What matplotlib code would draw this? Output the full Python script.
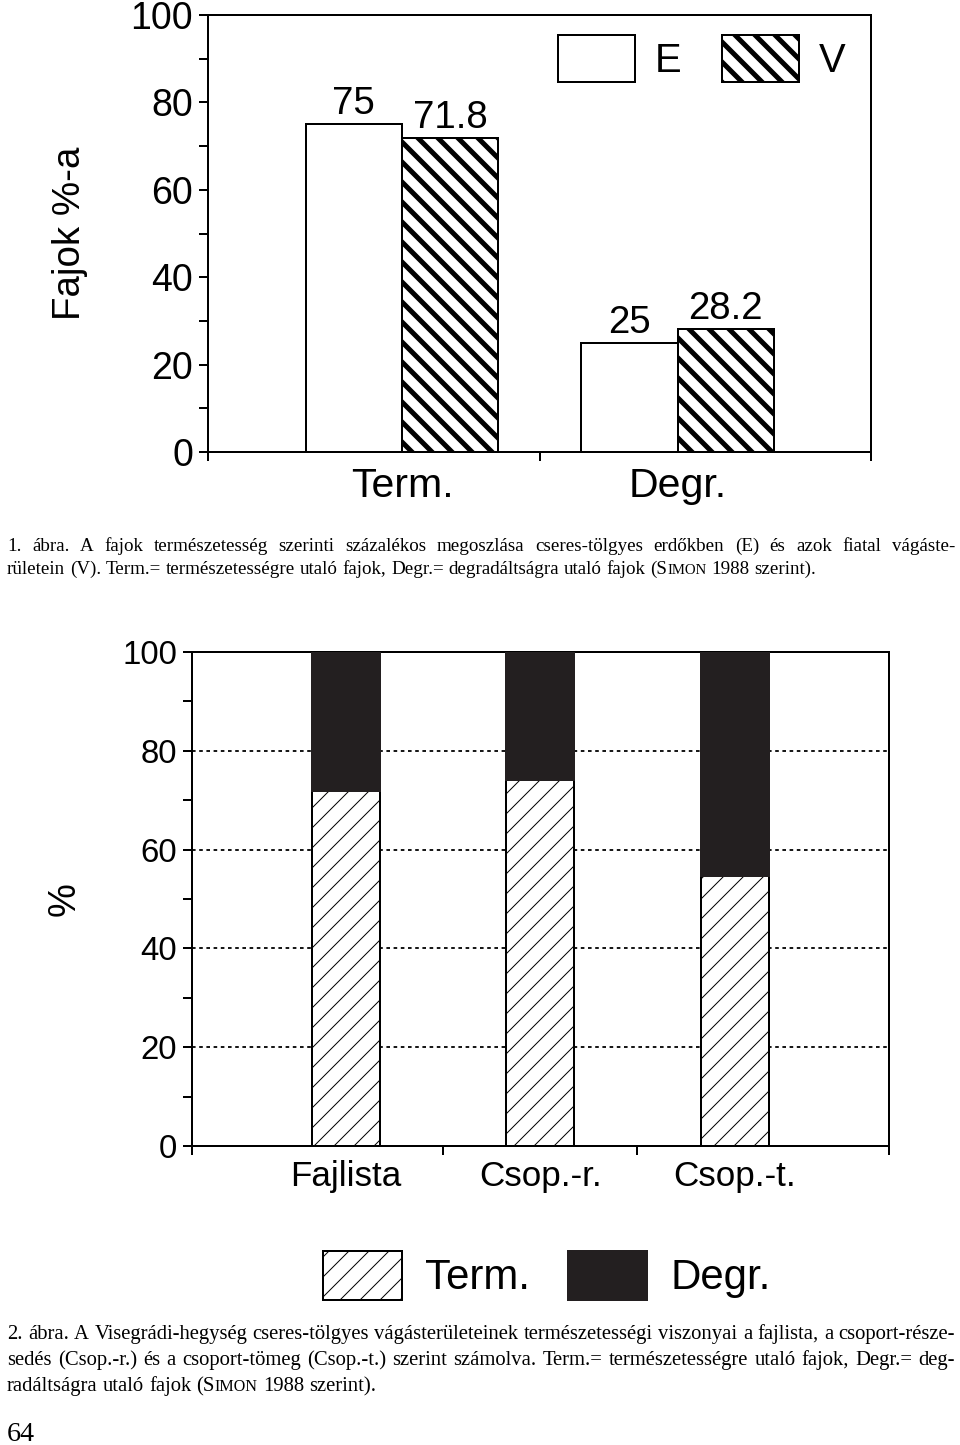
import matplotlib
matplotlib.use("Agg")
import matplotlib.pyplot as plt
import numpy as np

DPI = 120
W, H = 960, 1445

# 1. abra: E = erdo, V = vagasterulet
groups1 = ["Term.", "Degr."]
erdo = [75, 25]
vagas = [71.8, 28.2]

# 2. abra: stacked
groups2 = ["Fajlista", "Csop.-r.", "Csop.-t."]
term = [71.8, 74.0, 54.7]
degr = [28.2, 26.0, 45.3]

cap1 = ["1. ábra. A fajok természetesség szerinti százalékos megoszlása cseres-tölgyes erdőkben (E) és azok fiatal vágáste-",
        "rületein (V). Term.= természetességre utaló fajok, Degr.= degradáltságra utaló fajok (SIMON 1988 szerint)."]
cap2 = ["2. ábra. A Visegrádi-hegység cseres-tölgyes vágásterületeinek természetességi viszonyai a fajlista, a csoport-része-",
        "sedés (Csop.-r.) és a csoport-tömeg (Csop.-t.) szerint számolva. Term.= természetességre utaló fajok, Degr.= deg-",
        "radáltságra utaló fajok (SIMON 1988 szerint)."]

plt.rcParams['font.family'] = ['Liberation Sans', 'DejaVu Sans']
plt.rcParams['hatch.color'] = 'black'


def pt(px):
    return px * 72 / DPI


def hh(px, fs):
    # legend handleheight giving a box of px pixels for font size fs (px)
    return (px / fs - 0.245) / 0.65


fig = plt.figure(figsize=(W / DPI, H / DPI), dpi=DPI)
fig.patch.set_facecolor('white')


def axes_px(left, top, right, bottom):
    return fig.add_axes([left / W, 1 - bottom / H, (right - left) / W, (bottom - top) / H])


def style_axes(ax, xlim, xticks, ticksize):
    ax.set_xlim(*xlim)
    ax.set_ylim(0, 100)
    for s in ax.spines.values():
        s.set_linewidth(pt(2))
    ax.set_xticks(xticks)
    ax.set_xticklabels([])
    ax.set_yticks(np.arange(0, 101, 20))
    ax.set_yticks(np.arange(10, 100, 20), minor=True)
    ax.tick_params(axis='both', which='both', direction='out', length=pt(9), width=pt(2))
    ax.tick_params(axis='y', which='major', labelsize=ticksize, pad=pt(6))


def set_hatch_lw(bars, lw):
    for b in bars:
        if hasattr(b, 'set_hatch_linewidth'):
            b.set_hatch_linewidth(lw)


# ---------------- figure 1 ----------------
ax1 = axes_px(208, 15, 871, 452)
x1 = np.arange(len(groups1))
w1 = 0.35
style_axes(ax1, (-0.704, 1.702), [-0.704, 0.5, 1.702], pt(37.5))

b_e = ax1.bar(x1 - w1 / 2, erdo, w1, color='white', edgecolor='black', linewidth=pt(2), label='E')
plt.rcParams['hatch.linewidth'] = pt(5)
b_v = ax1.bar(x1 + w1 / 2, vagas, w1, color='white', edgecolor='black', linewidth=pt(2),
              hatch='\\\\', label='V')
set_hatch_lw(b_v, pt(5))

for bars, vals in ((b_e, erdo), (b_v, vagas)):
    for b, v in zip(bars, vals):
        ax1.annotate(f"{v:g}", (b.get_x() + b.get_width() / 2, v), xytext=(0, pt(10)),
                     textcoords='offset points', ha='center', va='baseline', fontsize=pt(38.5))

ax1.set_xticks(x1, minor=True)
ax1.set_xticklabels(groups1, minor=True, fontsize=pt(41))
ax1.tick_params(axis='x', which='minor', length=0, pad=pt(15))
ax1.set_ylabel("Fajok %-a", fontsize=pt(38.5))
ax1.yaxis.set_label_coords((88 - 208) / 663, 0.5)

ax1.legend(handles=[b_e, b_v], ncol=2, frameon=False, fontsize=pt(40),
           handlelength=77 / 40, handleheight=hh(47, 40), handletextpad=0.5,
           columnspacing=1.0, borderpad=0, borderaxespad=0,
           loc='upper left', bbox_to_anchor=(558 / W, 1 - 35 / H),
           bbox_transform=fig.transFigure)

# ---------------- figure 2 ----------------
ax2 = axes_px(192, 652, 889, 1146)
x2 = np.arange(len(groups2))
w2 = 0.35
style_axes(ax2, (-0.793, 2.795), [-0.793, 0.5, 1.5, 2.795], pt(33))
ax2.set_axisbelow(True)
ax2.yaxis.grid(True, which='major', color='black', linewidth=pt(1.8), linestyle=(0, (2, 2)))

plt.rcParams['hatch.linewidth'] = pt(1.0)
b_t = ax2.bar(x2, term, w2, color='white', edgecolor='black', linewidth=pt(2),
              hatch='//', label='Term.', zorder=3)
set_hatch_lw(b_t, pt(1.0))
b_d = ax2.bar(x2, degr, w2, bottom=term, color='#231f20', edgecolor='#231f20',
              linewidth=pt(2), label='Degr.', zorder=3)

ax2.set_xticks(x2, minor=True)
ax2.set_xticklabels(groups2, minor=True, fontsize=pt(35))
ax2.tick_params(axis='x', which='minor', length=0, pad=pt(14))
ax2.set_ylabel("%", fontsize=pt(38))
ax2.yaxis.set_label_coords((83 - 192) / 697, 0.5)

ax2.legend(handles=[b_t, b_d], ncol=2, frameon=False, fontsize=pt(42),
           handlelength=79 / 42, handleheight=hh(49, 42), handletextpad=0.55,
           columnspacing=0.9, borderpad=0, borderaxespad=0,
           loc='upper left', bbox_to_anchor=(323 / W, 1 - 1251 / H),
           bbox_transform=fig.transFigure)

# ---------------- captions ----------------
renderer = fig.canvas.get_renderer()
SERIF = 'Liberation Serif'


def word_runs(word):
    if "SIMON" in word:
        a, b = word.split("SIMON")
        return [r for r in [(a + "S", 1.0), ("IMON", 0.78), (b, 1.0)] if r[0]]
    return [(word, 1.0)]


def measure(s, size):
    t = fig.text(0, 0, s, fontsize=size, family=SERIF)
    wdt = t.get_window_extent(renderer).width
    t.remove()
    return wdt


def space_width(size):
    return measure("a a", size) - measure("aa", size)


def natural_width(line, size):
    words = line.split(" ")
    tot = sum(measure(s, size * k) for wd in words for s, k in word_runs(wd))
    return tot + (len(words) - 1) * space_width(size)


def draw_line(line, y, size, x0=7, x1=955, justify=True):
    words = line.split(" ")
    widths = [[(s, k, measure(s, size * k)) for s, k in word_runs(wd)] for wd in words]
    total = sum(r[2] for wr in widths for r in wr)
    space = space_width(size)
    if justify:
        space = (x1 - x0 - total) / (len(words) - 1)
    x = x0
    for wr in widths:
        for s, k, wdt in wr:
            fig.text(x / W, 1 - y / H, s, fontsize=size * k, family=SERIF,
                     ha='left', va='baseline')
            x += wdt
        x += space


ref = 12
# caption 1: the printed lines are set tighter on line 2, take a middle size
fit_a = ref * (955 - 7) / natural_width(cap1[0], ref)
fit_b = ref * (745 - 7) / natural_width(cap1[1], ref)
s1 = (fit_a * fit_b) ** 0.5
s2 = ref * (955 - 7) / natural_width(cap2[0], ref)

draw_line(cap1[0], 551, s1)
draw_line(cap1[1], 574, s1, justify=False)
draw_line(cap2[0], 1339, s2)
draw_line(cap2[1], 1365, s2)
draw_line(cap2[2], 1391, s2, justify=False)
fig.text(7 / W, 1 - 1441 / H, "64", fontsize=pt(28), family=SERIF, ha='left', va='baseline')

fig.savefig("out.png", dpi=DPI, facecolor='white')
